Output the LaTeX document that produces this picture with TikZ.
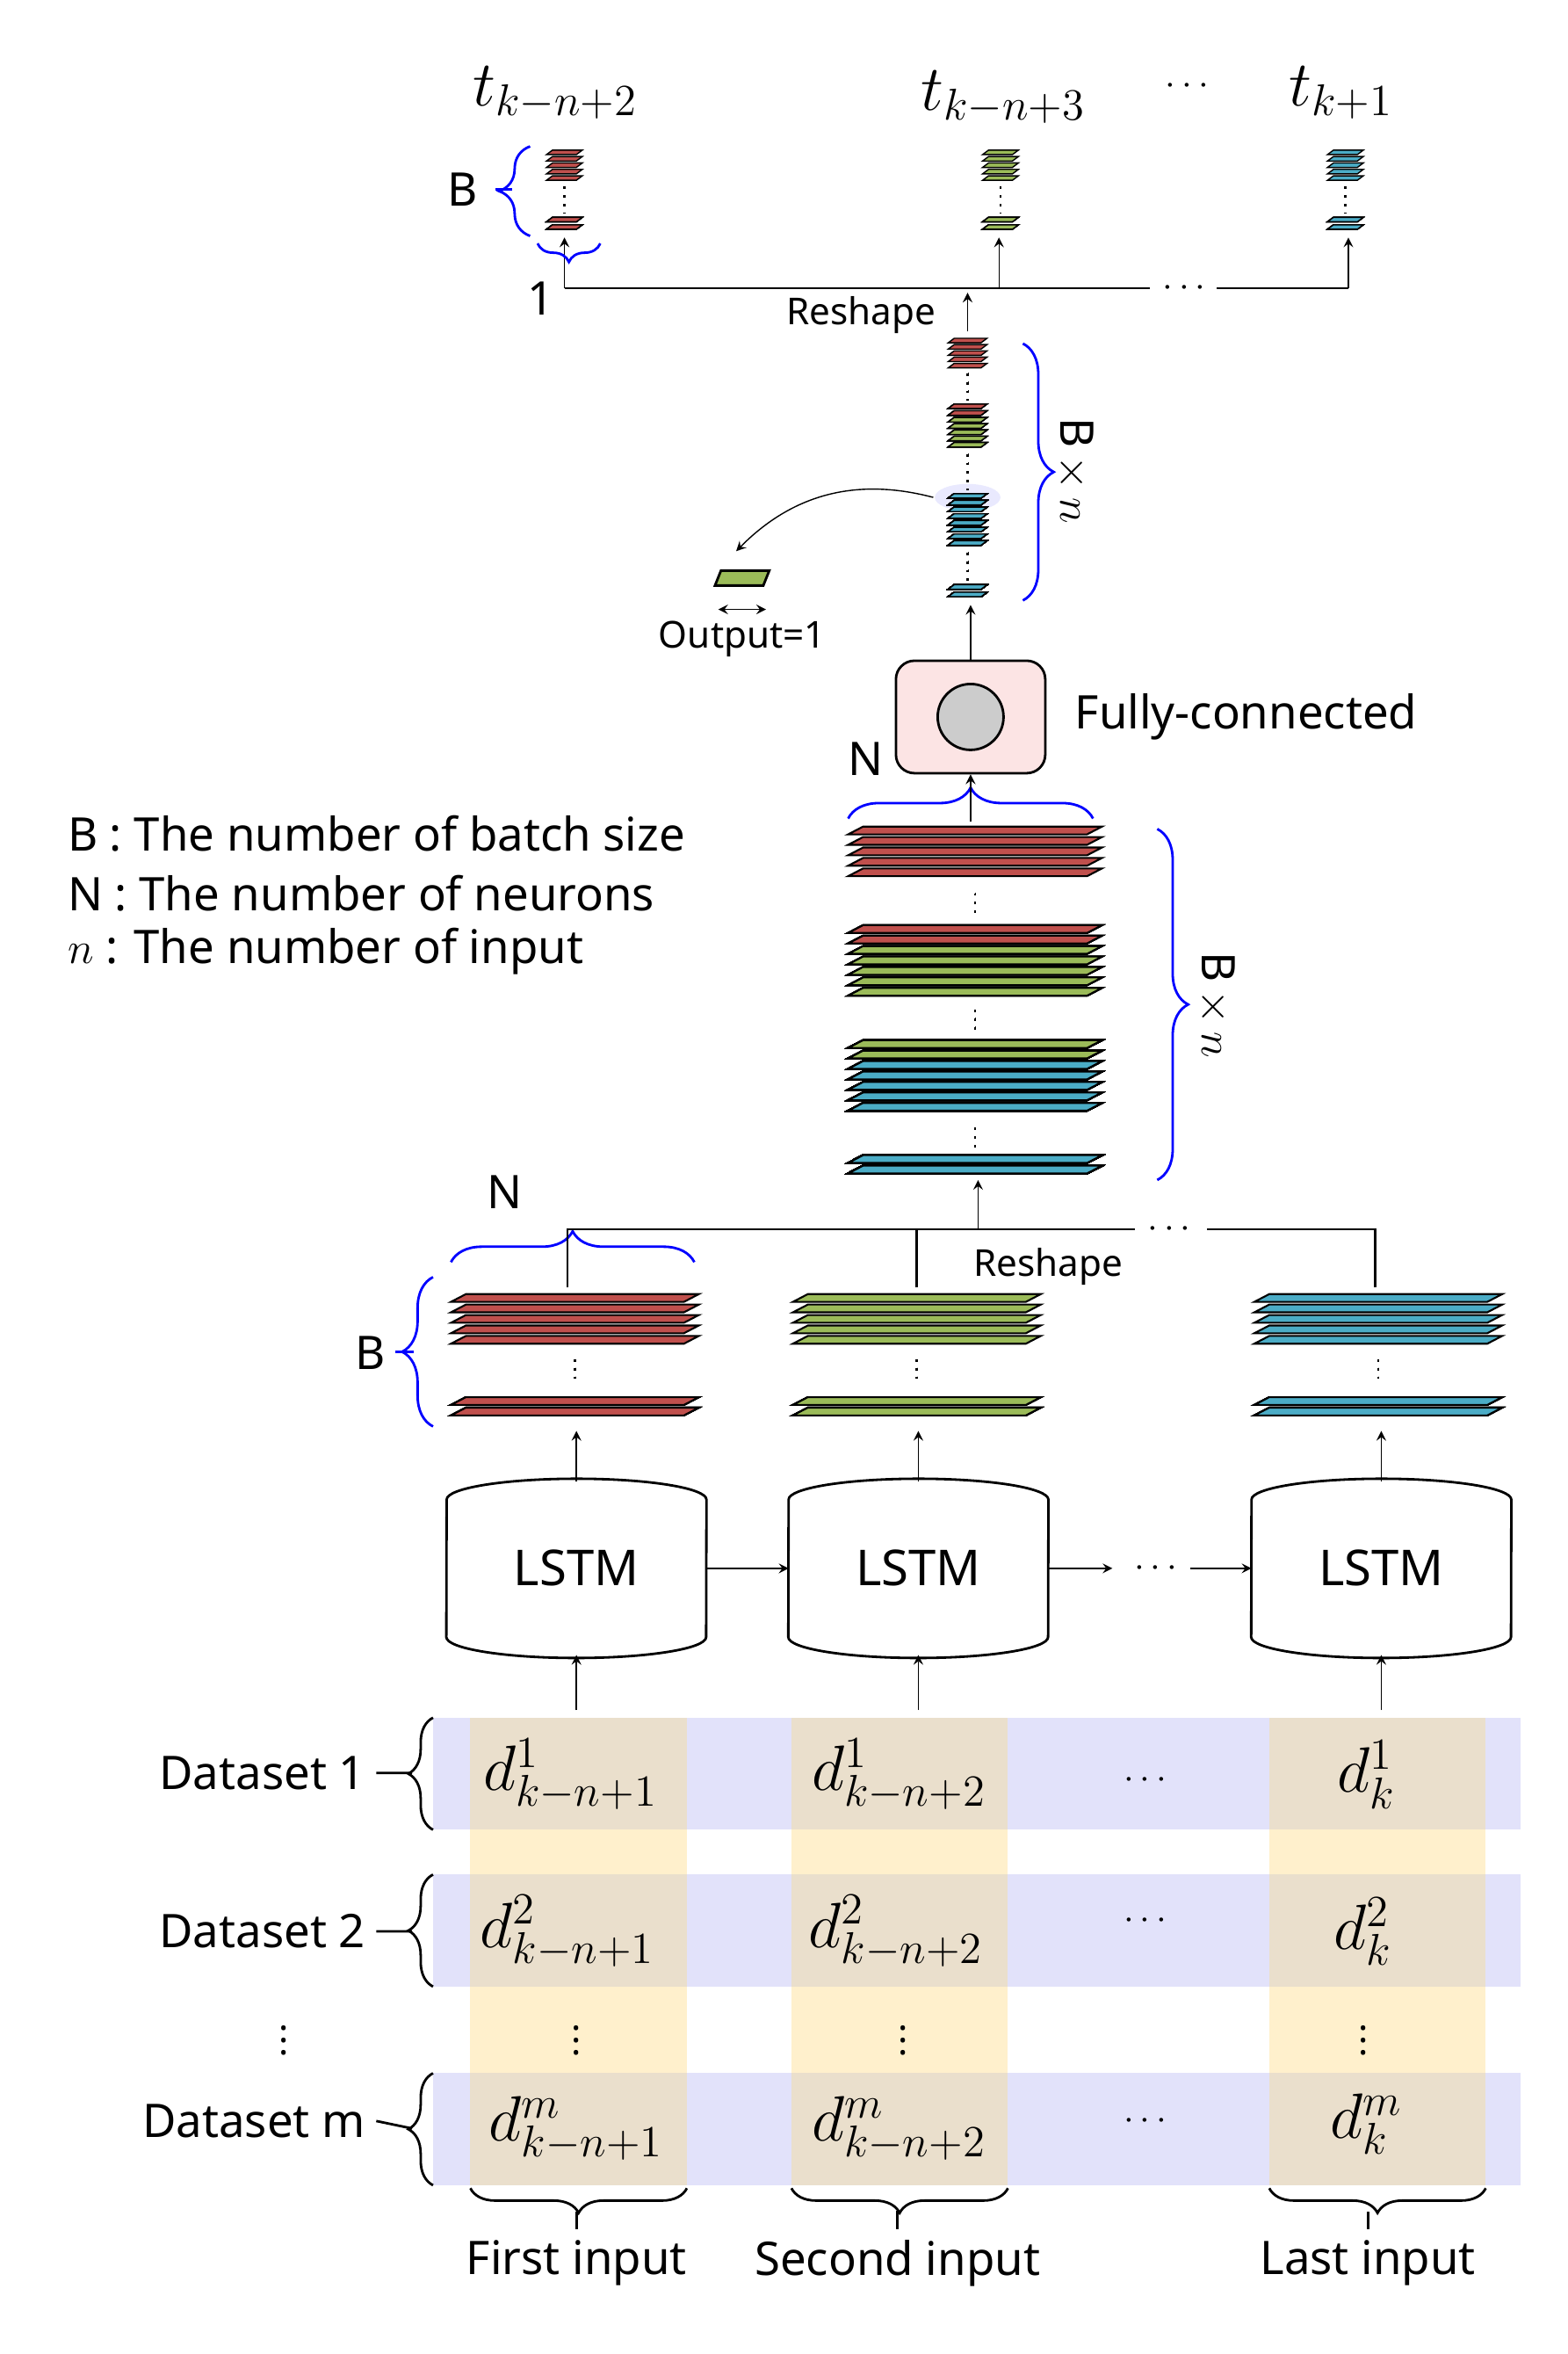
\documentclass[tikz,border=0pt]{standalone}
\usepackage{fontspec}
\setmainfont{Noto Sans}
\usetikzlibrary{decorations.pathreplacing,positioning}
\definecolor{rd}{HTML}{C0504D}
\definecolor{gn}{HTML}{9BBB59}
\definecolor{bl}{HTML}{4BACC6}
\definecolor{lav}{HTML}{E2E2FA}
\definecolor{ylw}{HTML}{FFF0CC}
\definecolor{tan}{HTML}{EADFCC}
\definecolor{pnk}{HTML}{FCE4E4}
% one slab: x, y, half width, colour
\newcommand\slab[4]{\filldraw[fill=#4,draw=black,line width=0.6pt] (#1-#3+5,#2-2.6) -- (#1+#3+5,#2-2.6) -- (#1+#3-5,#2+2.6) -- (#1-#3-5,#2+2.6) -- cycle;}
\newcommand\thin[4]{\filldraw[fill=#4,draw=black,line width=0.4pt] (#1-#3+2,#2-1.5) -- (#1+#3+2,#2-1.5) -- (#1+#3-2,#2+1.5) -- (#1-#3-2,#2+1.5) -- cycle;}
% barrel for LSTM
\newcommand\barrel[1]{\draw[thick,fill=white] (#1.north west) arc (180:360:87 and 14) -- (#1.south east) arc (0:180:87 and 14) -- cycle;}
\tikzset{
  brc/.style={draw=blue,thick,decorate,decoration={brace,amplitude=10}},
  lbl/.style={font=\fontsize{15}{18}\selectfont},
  sml/.style={font=\fontsize{12}{14}\selectfont},
  big/.style={font=\fontsize{22}{26}\selectfont},
  arr/.style={->,>=stealth,thin},
  dots/.style={dotted,line width=0.8pt},
  lstm/.style={minimum width=2.94cm,minimum height=1.55cm,inner sep=0pt,font=\fontsize{16}{19}\selectfont},
}
\begin{document}
\begin{tikzpicture}[x=0.017cm,y=-0.017cm]
\useasboundingbox (0,0) rectangle (1050,1576);
% dataset table
\fill[lav] (290,1150) rectangle (1018,1225);
\fill[lav] (290,1255) rectangle (1018,1330);
\fill[lav] (290,1388) rectangle (1018,1463);
\foreach \c in {315,530,850}{
  \fill[ylw] (\c,1150) rectangle ++(145,313);
  \fill[tan] (\c,1150) rectangle ++(145,75);
  \fill[tan] (\c,1255) rectangle ++(145,75);
  \fill[tan] (\c,1388) rectangle ++(145,75);
}
\node[big] (d11) at (382,1188) {$d^{1}_{k-n+1}$};
\node[big] (d12) at (602,1188) {$d^{1}_{k-n+2}$};
\node[big] (d1k) at (915,1188) {$d^{1}_{k}$};
\node[big] (d21) at (380,1293) {$d^{2}_{k-n+1}$};
\node[big] (d22) at (600,1293) {$d^{2}_{k-n+2}$};
\node[big] (d2k) at (913,1293) {$d^{2}_{k}$};
\node[big] (dm1) at (386,1425) {$d^{m}_{k-n+1}$};
\node[big] (dm2) at (602,1425) {$d^{m}_{k-n+2}$};
\node[big] (dmk) at (915,1422) {$d^{m}_{k}$};
\foreach \y in {1192,1286,1420} \node[sml] at (767,\y) {$\cdots$};
\foreach \x in {190,386,605,913} \node[sml] at (\x,1360) {$\vdots$};
\node[lbl,anchor=east] (ds1) at (252,1187) {Dataset 1};
\node[lbl,anchor=east] (ds2) at (252,1293) {Dataset 2};
\node[lbl,anchor=east] (dsm) at (252,1420) {Dataset m};
\draw[thick,decorate,decoration={brace,amplitude=8}] (290,1225) -- (290,1150);
\draw[thick,decorate,decoration={brace,amplitude=8}] (290,1330) -- (290,1255);
\draw[thick,decorate,decoration={brace,amplitude=8}] (290,1463) -- (290,1388);
\draw[thick] (ds1.east) -- (276,1187) (ds2.east) -- (276,1293) (dsm.east) -- (276,1425);
\draw[thick,decorate,decoration={brace,amplitude=8}] (460,1465) -- (315,1465);
\draw[thick,decorate,decoration={brace,amplitude=8}] (675,1465) -- (530,1465);
\draw[thick,decorate,decoration={brace,amplitude=8}] (995,1465) -- (850,1465);
\node[lbl] (in1) at (386,1515) {First input};
\node[lbl] (in2) at (601,1515) {Second input};
\node[lbl] (in3) at (916,1515) {Last input};
\draw[thick] (in1.north) -- ++(0,-12) (in2.north) -- ++(0,-12) (in3.north) -- ++(0,-12);
% LSTM cells
\node[lstm] (l1) at (386,1050) {};
\node[lstm] (l2) at (615,1050) {};
\node[lstm] (l3) at (925,1050) {};
\barrel{l1} \barrel{l2} \barrel{l3}
\node[lstm] at (l1) {LSTM};
\node[lstm] at (l2) {LSTM};
\node[lstm] at (l3) {LSTM};
\coordinate (lx1) at (745,1050);
\coordinate (lx2) at (797,1050);
\node[sml] at (774,1050) {$\cdots$};
\draw[arr] (l1) -- (l2);
\draw[arr] (l2.east) -- (lx1);
\draw[arr] (lx2) -- (l3);
\draw[arr] (386,1145) -- (386,1108);
\draw[arr] (615,1145) -- (615,1108);
\draw[arr] (925,1145) -- (925,1108);
\draw[arr] (386,992) -- (386,958);
\draw[arr] (615,992) -- (615,958);
\draw[arr] (925,992) -- (925,958);
% LSTM outputs
\foreach \x/\c in {385/rd,614/gn,923/bl}{
  \foreach \i in {0,...,4} \slab{\x}{869+7*\i}{78}{\c}
  \slab{\x}{938}{78}{\c} \slab{\x}{945}{78}{\c}
  \draw[dots] (\x,910) -- (\x,925);
}
\draw[brc] (290,955) -- (290,855);
\draw[blue,thick] (277,905) -- (265,905);
\node[lbl] (bl1) at (248,906) {B};
\draw[brc] (302,845) -- (465,845);
\node[lbl] (nl1) at (338,798) {N};
% reshape 1
\coordinate (r1) at (380,823); \coordinate (r2) at (614,823); \coordinate (r3) at (921,823);
\draw[thick] (380,862) -- (r1) -- (760,823);
\draw[thick] (614,862) -- (r2);
\draw[thick] (921,862) -- (r3) -- (808,823);
\node[sml] at (783,823) {$\cdots$};
\node[sml] (rs1) at (702,848) {Reshape};
\draw[arr] (655,823) -- (655,790);
% big stack
\foreach \i in {0,...,4} \slab{653}{556+7*\i}{80}{rd}
\slab{653}{622}{80}{rd} \slab{653}{629}{80}{rd}
\foreach \i in {0,...,4} \slab{653}{636+7*\i}{80}{gn}
\slab{653}{699}{80}{gn} \slab{653}{706}{80}{gn}
\foreach \i in {0,...,4} \slab{653}{713+7*\i}{80}{bl}
\slab{653}{776}{80}{bl} \slab{653}{783}{80}{bl}
\draw[dots] (653,598) -- (653,612) (653,676) -- (653,690) (653,755) -- (653,769);
\draw[brc] (775,555) -- (775,790);
\node[lbl,rotate=-90] (bn1) at (815,673) {B\,$\times\,n$};
\draw[brc] (568,548) -- (732,548);
\node[lbl] (nl2) at (580,508) {N};
% fully connected
\node[draw,thick,fill=pnk,rounded corners=6,minimum width=1.7cm,minimum height=1.28cm] (fc) at (650,480) {};
\node[draw,thick,fill=black!20,circle,minimum size=0.75cm] (fcc) at (fc) {};
\node[lbl,right=0.2cm of fc] (fcl) {Fully-connected};
\draw[arr] (fc.north) -- (650,405);
\draw[arr] (650,550) -- (fc.south);
% column stack
\fill[lav!80!blue!30] (648,333) ellipse (22 and 9);
\foreach \i in {0,...,4} \thin{648}{228+4.2*\i}{11}{rd}
\thin{648}{272}{11}{rd} \thin{648}{276.5}{11}{rd}
\foreach \i in {0,...,4} \thin{648}{281+4.2*\i}{11}{gn}
\foreach \i in {0,...,7} \thin{648}{332+4.5*\i}{11}{bl}
\thin{648}{393}{11}{bl} \thin{648}{398}{11}{bl}
\draw[dots] (648,250) -- (648,268) (648,304) -- (648,328) (648,370) -- (648,390);
\draw[brc] (685,230) -- (685,402);
\node[lbl,rotate=-90] (bn2) at (720,315) {B\,$\times\,n$};
\coordinate (hl) at (625,333);
\node[draw,thick,fill=gn,xslant=0.4,minimum width=0.55cm,minimum height=0.17cm,inner sep=0pt] (out) at (497,387) {};
\draw[arr] (hl) to[bend right=30] (493,369);
\draw[<->,>=stealth] (481,408) -- (513,408);
\node[sml] (ol) at (497,428) {Output=1};
% reshape 2
\draw[arr] (648,222) -- (648,196);
\node[sml,anchor=east] (rs2) at (634,211) {Reshape};
\coordinate (s1) at (378,193); \coordinate (s2) at (669,193); \coordinate (s3) at (903,193);
\draw[thick] (s1) -- (770,193);
\draw[thick] (815,193) -- (s3);
\node[sml] at (793,193) {$\cdots$};
\draw[arr] (s1) -- (378,159);
\draw[arr] (s2) -- (669,159);
\draw[arr] (s3) -- (903,159);
% top outputs
\foreach \x/\c in {378/rd,670/gn,901/bl}{
  \foreach \i in {0,...,4} \thin{\x}{102+4.3*\i}{10}{\c}
  \thin{\x}{147}{10}{\c} \thin{\x}{152}{10}{\c}
  \draw[dots] (\x,125) -- (\x,143);
}
\draw[brc] (355,158) -- (355,98);
\draw[blue,thick] (343,127) -- (332,127);
\node[lbl] (bl2) at (310,127) {B};
\draw[blue,thick,decorate,decoration={brace,amplitude=6}] (402,163) -- (360,163);
\node[lbl] (one) at (362,200) {1};
\node[big] (t1) at (372,62) {$t_{k-n+2}$};
\node[big] (t2) at (672,65) {$t_{k-n+3}$};
\node[sml] at (795,58) {$\cdots$};
\node[big] (t3) at (898,62) {$t_{k+1}$};
% legend
\node[lbl,anchor=west] (lg1) at (38,558) {B : The number of batch size};
\node[lbl,anchor=west] (lg2) at (38,598) {N : The number of neurons};
\node[lbl,anchor=west] (lg3) at (38,637) {{\Large$n$} : The number of input};
\end{tikzpicture}
\end{document}
